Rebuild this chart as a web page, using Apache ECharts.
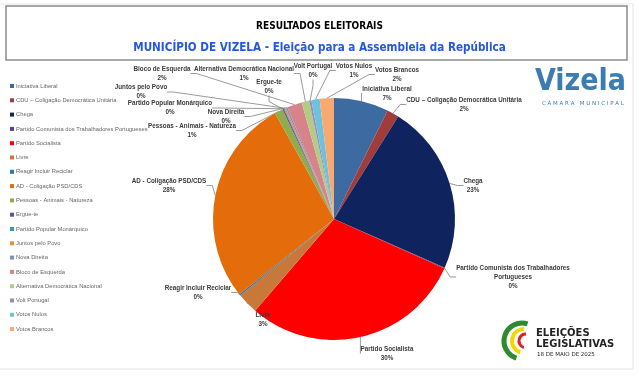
<!DOCTYPE html>
<html>
<head>
<meta charset="utf-8">
<script src="https://cdn.jsdelivr.net/npm/echarts@6/dist/echarts.min.js"></script>
<style>
html, body { margin: 0; padding: 0; background: #fff; }
#chart { width: 639px; height: 376px; }
</style>
</head>
<body>
<div id="chart"></div>
<script>
// partidos / listas, pela ordem do gráfico
var partidos = ['Iniciativa Liberal', 'CDU – Coligação Democrática Unitária', 'Chega',
    'Partido Comunista dos Trabalhadores Portugueses', 'Partido Socialista', 'Livre',
    'Reagir Incluir Reciclar', 'AD - Coligação PSD/CDS', 'Pessoas - Animais - Natureza',
    'Ergue-te', 'Partido Popular Monárquico', 'Juntos pelo Povo', 'Nova Direita',
    'Bloco de Esquerda', 'Alternativa Democrática Nacional', 'Volt Portugal',
    'Votos Nulos', 'Votos Brancos'];
// percentagens
var votos = [7.3, 1.6, 22.7, 0.1, 29.6, 2.8, 0.2, 27.6, 1.1, 0.2, 0.1, 0.2, 0.2, 2.0, 1.0, 0.3, 1.1, 1.9];
var cores = ['#3c6aa1', '#a23b3b', '#0f245e', '#5b3d8c', '#ff0000', '#c8793a',
    '#2e75b6', '#e46c0a', '#8fae4b', '#6c4c9c', '#2f9fb8', '#f08c3a',
    '#7c8fcc', '#d6848a', '#b2cd82', '#9a8cc0', '#6fc2da', '#f9a870'];

// onde fica cada rótulo (centro do texto), como no Excel
var posRotulos = [[387, 93.5], [464, 104.5], [473, 185.5], [513, 277], [387, 353.5], [263, 320],
    [198, 292.5], [169, 185.5], [192, 130.5], [269, 86.5], [170, 108], [141, 92],
    [226, 116.5], [162, 73.5], [244, 73.5], [313, 70.5], [354, 70.5], [397, 74.5]];

var dados = [];
for (var i = 0; i < partidos.length; i++) {
    dados.push({ name: partidos[i], value: votos[i], itemStyle: { color: cores[i] } });
}

var myChart = echarts.init(document.getElementById('chart'));
var option = {
    backgroundColor: '#fff',
    animation: false,
    title: [{
        text: 'RESULTADOS ELEITORAIS',
        left: 'center', top: 16,
        textStyle: { fontSize: 10, fontWeight: 'bold', color: '#000', fontFamily: 'DejaVu Sans Condensed', textDecoration: 'underline' }
    }, {
        text: 'MUNICÍPIO DE VIZELA - Eleição para a Assembleia da República',
        left: 'center', top: 37,
        textStyle: { fontSize: 11.6, fontWeight: 'bold', color: '#2457e6', fontFamily: 'DejaVu Sans Condensed', textDecoration: 'underline' }
    }],
    legend: {
        orient: 'vertical',
        left: 5, top: 78,
        itemWidth: 4, itemHeight: 4,
        itemGap: 8.3,
        icon: 'rect',
        textStyle: { fontSize: 5.8, color: '#666', fontFamily: 'Liberation Sans', padding: [0, 0, 0, -3] },
        data: partidos
    },
    series: [{
        name: 'Resultados',
        type: 'pie',
        center: [334, 219],
        radius: 121,
        startAngle: 90,
        clockwise: true,
        data: dados,
        label: {
            fontSize: 6.3,
            fontWeight: 'bold',
            color: '#3a3a3a',
            fontFamily: 'Liberation Sans Narrow, Liberation Sans',
            lineHeight: 9,
            align: 'center',
            formatter: function (p) {
                var nome = p.name.replace('Trabalhadores Portugueses', 'Trabalhadores\nPortugueses');
                return nome + '\n' + Math.round(p.percent) + '%';
            }
        },
        labelLine: { length: 8, length2: 6, lineStyle: { color: '#808080', width: 0.8 } },
        labelLayout: function (p) {
            var pos = posRotulos[p.dataIndex];
            return { x: pos[0], y: pos[1], align: 'center', verticalAlign: 'middle' };
        }
    }],
    graphic: [
        { type: 'rect', shape: { x: 6, y: 6, width: 621, height: 54 }, style: { fill: 'none', stroke: '#8a8a8a', lineWidth: 1.5 } },
        { type: 'line', shape: { x1: 0, y1: 4, x2: 633, y2: 4 }, style: { stroke: '#e6e6e6', lineWidth: 1 } },
        { type: 'line', shape: { x1: 633, y1: 4, x2: 633, y2: 369 }, style: { stroke: '#e6e6e6', lineWidth: 1 } },
        { type: 'line', shape: { x1: 0, y1: 369, x2: 633, y2: 369 }, style: { stroke: '#e6e6e6', lineWidth: 1 } },
        // logo Vizela
        { type: 'text', left: 535, top: 67, style: { text: 'Vizela', fontSize: 30, fontWeight: 'bold', fill: '#3b7db3', fontFamily: 'DejaVu Sans Condensed' } },
        { type: 'text', left: 542, top: 101, style: { text: 'C Â M A R A   M U N I C I P A L', fontSize: 5.5, fill: '#3b7db3', fontFamily: 'DejaVu Sans' } },
        // logo eleições
        { type: 'arc', shape: { cx: 522, cy: 341, r: 18, startAngle: Math.PI * 0.6, endAngle: Math.PI * 1.6 }, style: { stroke: '#2e8b2e', lineWidth: 5, fill: 'none' } },
        { type: 'arc', shape: { cx: 524, cy: 341, r: 12, startAngle: Math.PI * 0.6, endAngle: Math.PI * 1.5 }, style: { stroke: '#f2d600', lineWidth: 4, fill: 'none' } },
        { type: 'arc', shape: { cx: 526, cy: 341, r: 7, startAngle: Math.PI * 0.6, endAngle: Math.PI * 1.5 }, style: { stroke: '#e02020', lineWidth: 3, fill: 'none' } },
        { type: 'text', left: 536, top: 328, style: { text: 'ELEIÇÕES\nLEGISLATIVAS', fontSize: 10, fontWeight: 'bold', fill: '#222', fontFamily: 'DejaVu Sans', lineHeight: 11 } },
        { type: 'text', left: 537, top: 352, style: { text: '18 DE MAIO DE 2025', fontSize: 5.5, fill: '#222', fontFamily: 'DejaVu Sans' } }
    ]
};
myChart.setOption(option);
</script>
</body>
</html>
